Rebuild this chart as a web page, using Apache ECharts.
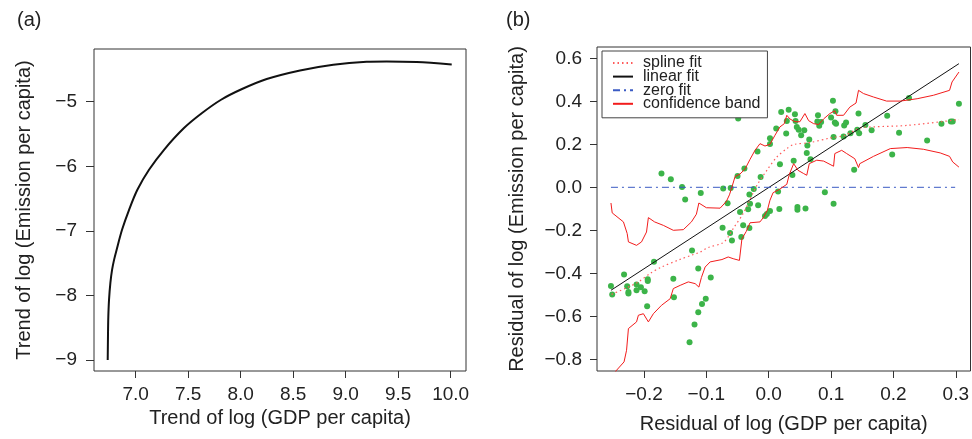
<!DOCTYPE html>
<html>
<head>
<meta charset="utf-8">
<script src="https://cdn.jsdelivr.net/npm/echarts@6/dist/echarts.min.js"></script>
<style>
html,body{margin:0;padding:0;background:#fff;}
#c{width:972px;height:439px;}
</style>
</head>
<body>
<div id="c"></div>
<script>
// ---------- Panel (a): trend curve ----------
const trendCurve = [
  [6.7336,-9.000],[6.7365,-8.581],[6.7393,-8.333],[6.746,-8.070],[6.759,-7.806],
  [6.775,-7.605],[6.794,-7.450],[6.818,-7.295],[6.870,-6.984],[6.937,-6.674],
  [7.016,-6.364],[7.127,-6.054],[7.270,-5.744],[7.460,-5.408],[7.632,-5.175],
  [7.813,-4.969],[8.013,-4.803],[8.248,-4.648],[8.565,-4.515],[8.882,-4.426],
  [9.200,-4.380],[9.391,-4.375],[9.676,-4.385],[10.010,-4.422]
];
const aTicksX = [7.0,7.5,8.0,8.5,9.0,9.5,10.0];
const aTicksY = [-9,-8,-7,-6,-5];

// ---------- Panel (b): residual scatter and fits ----------
const residPoints = [
  [-0.172,0.064],[-0.157,0.037],[-0.139,0.001],[-0.049,0.320],[-0.073,-0.006],
  [-0.061,-0.003],[-0.050,0.053],[-0.039,0.087],[-0.018,0.167],[-0.013,0.048],
  [-0.024,-0.008],[0.002,0.228],[0.002,0.201],[0.012,0.273],[0.018,0.107],
  [0.020,0.350],[0.028,0.250],[0.029,0.308],[0.032,0.361],[0.038,0.057],
  [0.040,0.124],[0.042,0.340],[0.043,0.308],[0.045,0.280],[0.048,0.268],
  [0.052,0.242],[0.057,0.265],[0.061,0.160],[0.062,0.194],[0.065,0.222],
  [0.067,0.131],[0.078,0.306],[0.079,0.335],[0.081,0.286],[0.084,0.304],
  [0.100,0.325],[0.103,0.403],[0.104,0.234],[0.107,0.354],[0.106,0.301],
  [0.108,0.296],[0.121,0.288],[0.120,0.236],[0.124,0.302],[0.137,0.082],
  [0.131,0.252],[0.142,0.268],[0.144,0.343],[0.145,0.251],[0.155,0.290],
  [0.165,0.265],[0.190,0.333],[0.198,0.153],[0.209,0.254],[0.225,0.415],
  [0.254,0.218],[0.277,0.296],[0.292,0.306],[0.295,0.306],[0.305,0.389],
  [-0.134,-0.057],[-0.109,-0.026],[-0.066,-0.074],[-0.031,-0.034],[-0.046,-0.115],
  [-0.030,-0.076],[-0.033,-0.102],[-0.017,-0.084],[-0.041,-0.177],[-0.031,-0.189],
  [-0.044,-0.231],[-0.074,-0.188],[-0.062,-0.212],[-0.059,-0.247],[-0.006,-0.134],
  [-0.003,-0.124],[0.002,-0.110],[0.015,-0.019],[0.017,-0.101],[0.046,-0.092],
  [0.046,-0.104],[0.059,-0.099],[0.090,-0.023],[0.104,-0.076],
  [-0.123,-0.294],[-0.113,-0.378],[-0.093,-0.420],[-0.101,-0.518],[-0.107,-0.543],
  [-0.113,-0.581],[-0.119,-0.638],[-0.127,-0.721],[-0.153,-0.425],[-0.152,-0.511],
  [-0.184,-0.346],[-0.194,-0.428],[-0.194,-0.436],[-0.195,-0.553],[-0.199,-0.484],
  [-0.205,-0.465],[-0.212,-0.452],[-0.212,-0.479],[-0.225,-0.487],[-0.225,-0.494],
  [-0.227,-0.460],[-0.232,-0.406],[-0.253,-0.459],[-0.251,-0.499]
];
const splineFit = [
  [-0.252,-0.498],[-0.230,-0.470],[-0.209,-0.440],[-0.190,-0.400],[-0.172,-0.371],
  [-0.142,-0.335],[-0.124,-0.316],[-0.110,-0.301],[-0.097,-0.280],[-0.074,-0.259],
  [-0.065,-0.230],[-0.057,-0.192],[-0.041,-0.122],[-0.019,0.009],[-0.003,0.079],
  [0.013,0.141],[0.029,0.180],[0.040,0.199],[0.066,0.208],[0.098,0.229],
  [0.122,0.242],[0.147,0.276],[0.168,0.281],[0.222,0.288],[0.305,0.315]
];
const linearFit = [[-0.253,-0.479],[0.305,0.575]];
const zeroFit = [[-0.253,0],[0.299,0]];
const bandUpper = [
  [-0.253,-0.073],[-0.251,-0.119],[-0.233,-0.161],[-0.227,-0.215],[-0.225,-0.254],
  [-0.212,-0.270],[-0.204,-0.254],[-0.196,-0.208],[-0.193,-0.141],[-0.183,-0.161],
  [-0.169,-0.177],[-0.153,-0.200],[-0.137,-0.197],[-0.124,-0.161],[-0.116,-0.125],
  [-0.112,-0.073],[-0.100,-0.095],[-0.078,-0.097],[-0.068,-0.066],[-0.063,-0.035],
  [-0.059,0.001],[-0.054,0.050],[-0.046,0.062],[-0.038,0.085],[-0.030,0.130],
  [-0.022,0.172],[-0.014,0.203],[-0.006,0.192],[0.002,0.200],[0.010,0.242],
  [0.018,0.281],[0.025,0.296],[0.029,0.335],[0.034,0.318],[0.042,0.305],
  [0.050,0.305],[0.058,0.343],[0.064,0.310],[0.072,0.296],[0.080,0.292],
  [0.088,0.318],[0.098,0.343],[0.106,0.356],[0.109,0.335],[0.120,0.335],
  [0.130,0.373],[0.140,0.392],[0.144,0.451],[0.152,0.436],[0.168,0.420],
  [0.189,0.401],[0.211,0.401],[0.238,0.412],[0.264,0.428],[0.290,0.451],
  [0.294,0.490],[0.305,0.536]
];
const bandLower = [
  [-0.253,-0.900],[-0.245,-0.854],[-0.232,-0.812],[-0.228,-0.758],[-0.225,-0.657],
  [-0.212,-0.626],[-0.209,-0.595],[-0.201,-0.588],[-0.193,-0.626],[-0.185,-0.588],
  [-0.172,-0.549],[-0.158,-0.518],[-0.153,-0.471],[-0.142,-0.456],[-0.129,-0.440],
  [-0.118,-0.448],[-0.112,-0.464],[-0.108,-0.420],[-0.102,-0.371],[-0.094,-0.347],
  [-0.075,-0.336],[-0.065,-0.324],[-0.057,-0.332],[-0.047,-0.340],[-0.043,-0.240],
  [-0.036,-0.205],[-0.030,-0.165],[-0.014,-0.161],[-0.008,-0.138],[-0.002,-0.105],
  [0.002,-0.060],[0.007,-0.025],[0.017,-0.010],[0.029,0.014],[0.033,0.060],
  [0.040,0.110],[0.047,0.079],[0.056,0.064],[0.061,0.056],[0.065,0.110],
  [0.077,0.126],[0.088,0.122],[0.104,0.098],[0.106,0.157],[0.117,0.172],
  [0.125,0.157],[0.138,0.133],[0.144,0.092],[0.146,0.110],[0.168,0.144],
  [0.195,0.180],[0.222,0.185],[0.248,0.177],[0.275,0.160],[0.290,0.144],
  [0.295,0.118],[0.305,0.094]
];
const bTicksX = [-0.2,-0.1,0.0,0.1,0.2,0.3];
const bTicksY = [-0.8,-0.6,-0.4,-0.2,0.0,0.2,0.4,0.6];
const legendNames = ['spline fit','linear fit','zero fit','confidence band'];

// ---------- build chart ----------
const FONT = 'Liberation Sans, Arial, Helvetica, sans-serif';
const TXT = '#222';
const minus = v => (v < 0 ? '\u2212' : '') + Math.abs(v);
const minus1 = v => (v < 0 ? '\u2212' : '') + Math.abs(v).toFixed(1);

function axisBase(extra) {
  return Object.assign({
    type: 'value',
    splitLine: {show: false},
    axisLine: {show: false, onZero: false},
    nameTextStyle: {fontFamily: FONT, fontSize: 20, color: TXT},
    nameLocation: 'middle'
  }, extra);
}
function ticks(vals, len) {
  return {show: true, inside: false, length: len, lineStyle: {color: '#333', width: 1}, customValues: vals};
}

const chart = echarts.init(document.getElementById('c'), null, {renderer: 'canvas'});
chart.setOption({
  animation: false,
  backgroundColor: '#fff',
  textStyle: {fontFamily: FONT},
  title: [
    {text: '(a)', left: 12, top: 5, textStyle: {fontFamily: FONT, fontSize: 20, fontWeight: 'normal', color: TXT}},
    {text: '(b)', left: 501, top: 5, textStyle: {fontFamily: FONT, fontSize: 20, fontWeight: 'normal', color: TXT}}
  ],
  grid: [
    {left: 94, right: 506, top: 49, bottom: 68, show: true, borderColor: '#333', borderWidth: 1, containLabel: false},
    {left: 597, right: 1, top: 47, bottom: 68, show: true, borderColor: '#333', borderWidth: 1, containLabel: false}
  ],
  xAxis: [
    axisBase({gridIndex: 0, min: 6.603, max: 10.146,
      name: 'Trend of log (GDP per capita)', nameGap: 33,
      axisTick: ticks(aTicksX, 7),
      axisLabel: {customValues: aTicksX, formatter: v => v.toFixed(1), fontSize: 19, color: TXT, margin: 14, fontFamily: FONT}}),
    axisBase({gridIndex: 1, min: -0.2754, max: 0.3236,
      name: 'Residual of log (GDP per capita)', nameGap: 43,
      axisTick: ticks(bTicksX, 7),
      axisLabel: {customValues: bTicksX, formatter: minus1, fontSize: 19, color: TXT, margin: 14, fontFamily: FONT}})
  ],
  yAxis: [
    axisBase({gridIndex: 0, min: -9.171, max: -4.183,
      name: 'Trend of log (Emission per capita)', nameGap: 60,
      axisTick: ticks(aTicksY, 8),
      axisLabel: {customValues: aTicksY, formatter: minus, fontSize: 19, color: TXT, margin: 17, fontFamily: FONT}}),
    axisBase({gridIndex: 1, min: -0.8544, max: 0.6526,
      name: 'Residual of log (Emission per capita)', nameGap: 70,
      axisTick: ticks(bTicksY, 7),
      axisLabel: {customValues: bTicksY, formatter: minus1, fontSize: 19, color: TXT, margin: 15, fontFamily: FONT}})
  ],
  legend: {
    data: legendNames,
    orient: 'vertical',
    left: 602, top: 51,
    padding: [4, 7, 6, 10],
    itemGap: -2.4,
    itemWidth: 20, itemHeight: 10,
    selectedMode: false,
    backgroundColor: '#fff',
    borderColor: '#444', borderWidth: 1, borderRadius: 0,
    itemStyle: {opacity: 0},
    textStyle: {fontFamily: FONT, fontSize: 16, color: TXT, padding: [0, 0, 0, 5]}
  },
  series: [
    {type: 'line', xAxisIndex: 0, yAxisIndex: 0, data: trendCurve, smooth: 0.3,
     showSymbol: false, symbol: 'none', lineStyle: {color: '#111', width: 2}},
    {type: 'scatter', name: 'data', xAxisIndex: 1, yAxisIndex: 1, data: residPoints, symbolSize: 6,
     itemStyle: {color: '#3cb449', opacity: 1}},
    {type: 'line', name: 'spline fit', xAxisIndex: 1, yAxisIndex: 1, data: splineFit, symbol: 'none', smooth: 0.3,
     lineStyle: {color: '#ff5a5a', width: 1.2, type: [1.5, 3]}, itemStyle: {color: '#ff5a5a'}},
    {type: 'line', name: 'linear fit', xAxisIndex: 1, yAxisIndex: 1, data: linearFit, symbol: 'none',
     lineStyle: {color: '#111', width: 1}, itemStyle: {color: '#111'}},
    {type: 'line', name: 'zero fit', xAxisIndex: 1, yAxisIndex: 1, data: zeroFit, symbol: 'none',
     lineStyle: {color: '#3b5bc4', width: 1, type: [7, 4, 2, 4]}, itemStyle: {color: '#3b5bc4'}},
    {type: 'line', name: 'confidence band', xAxisIndex: 1, yAxisIndex: 1, data: bandUpper, symbol: 'none', clip: true,
     lineStyle: {color: '#f21c1c', width: 1}, itemStyle: {color: '#f21c1c'}},
    {type: 'line', name: 'confidence band', xAxisIndex: 1, yAxisIndex: 1, data: bandLower, symbol: 'none', clip: true,
     lineStyle: {color: '#f21c1c', width: 1}, itemStyle: {color: '#f21c1c'}}
  ]
});
</script>
</body>
</html>
